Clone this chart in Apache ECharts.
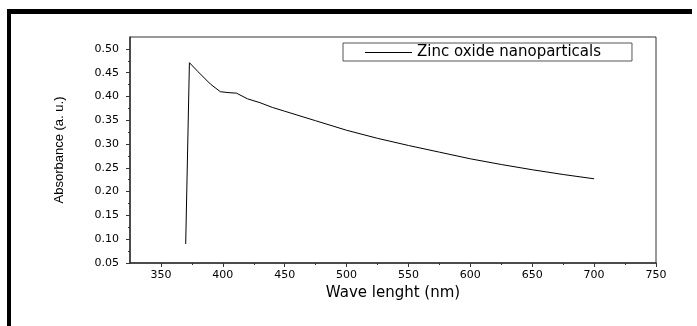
<!DOCTYPE html>
<html>
<head>
<meta charset="utf-8">
<script src="https://cdn.jsdelivr.net/npm/echarts@6/dist/echarts.min.js"></script>
<style>
  html, body { margin: 0; padding: 0; background: #fff; }
  #chart { position: absolute; left: 0; top: 0; width: 697px; height: 326px; }
  #frame {
    position: absolute; left: 7px; top: 9px; width: 681px; height: 317px;
    border-top: 5px solid #000; border-left: 4px solid #000; pointer-events: none;
  }
</style>
</head>
<body>
<div id="chart"></div>
<div id="frame"></div>
<script>
// wavelength (nm) and absorbance
const wavelength = [370, 373, 380, 390, 398, 405, 411, 420, 430, 440, 450, 475, 500, 525, 550, 575, 600, 625, 650, 675, 700];
const absorbance = [0.090, 0.471, 0.452, 0.426, 0.410, 0.408, 0.407, 0.395, 0.387, 0.377, 0.369, 0.349, 0.329, 0.312, 0.297, 0.283, 0.269, 0.257, 0.246, 0.236, 0.227];

const xMajor = [350, 400, 450, 500, 550, 600, 650, 700, 750];
const xMinor = [375, 425, 475, 525, 575, 625, 675, 725];
const yMajor = [0.05, 0.10, 0.15, 0.20, 0.25, 0.30, 0.35, 0.40, 0.45, 0.50];
const yMinor = [0.075, 0.125, 0.175, 0.225, 0.275, 0.325, 0.375, 0.425, 0.475, 0.5];

const seriesName = "Zinc oxide nanoparticals";
const tickFont = { fontFamily: "DejaVu Sans", fontSize: 11, color: "#000" };

const option = {
    animation: false,
    grid: {
        left: 130, right: 41, top: 37, bottom: 63,
        show: true, borderColor: "#333", borderWidth: 1
    },
    legend: {
        left: 343, top: 43,
        padding: [2, 31, 1, 22],
        borderColor: "#555", borderWidth: 1,
        itemWidth: 47, itemHeight: 1, itemGap: 5,
        textStyle: { fontFamily: "DejaVu Sans", fontSize: 15, color: "#000" },
        data: [{ name: seriesName, icon: "rect" }]
    },
    xAxis: [{
        type: "value", min: 325, max: 750, interval: 25,
        name: "Wave lenght (nm)", nameLocation: "middle", nameGap: 23,
        nameTextStyle: { fontFamily: "DejaVu Sans", fontSize: 15, color: "#000" },
        axisLine: { lineStyle: { color: "#333", width: 1.5 } },
        axisTick: { length: 4, customValues: xMajor, lineStyle: { color: "#333" } },
        axisLabel: { ...tickFont, margin: 7, customValues: xMajor },
        splitLine: { show: false }
    }, {
        type: "value", min: 325, max: 750, interval: 25, position: "bottom",
        axisLine: { show: false },
        axisTick: { length: 2, customValues: xMinor, lineStyle: { color: "#333" } },
        axisLabel: { show: false },
        splitLine: { show: false }
    }],
    yAxis: [{
        type: "value", min: 0.05, max: 0.525, interval: 0.05,
        name: "Absorbance (a. u.)", nameLocation: "middle", nameGap: 64,
        nameTextStyle: { fontFamily: "Liberation Sans", fontSize: 13, color: "#000" },
        axisLine: { show: true, lineStyle: { color: "#333", width: 1.5 } },
        axisTick: { show: true, length: 4, customValues: yMajor, lineStyle: { color: "#333" } },
        axisLabel: { ...tickFont, margin: 11, customValues: yMajor, formatter: v => v.toFixed(2) },
        splitLine: { show: false }
    }, {
        type: "value", min: 0.05, max: 0.525, interval: 0.05, position: "left",
        axisLine: { show: false },
        axisTick: { show: true, length: 2, customValues: yMinor, lineStyle: { color: "#333" } },
        axisLabel: { show: false },
        splitLine: { show: false }
    }],
    series: [{
        name: seriesName,
        type: "line",
        symbol: "none",
        color: "#000",
        lineStyle: { color: "#000", width: 1 },
        data: wavelength.map((w, i) => [w, absorbance[i]])
    }]
};

const myChart = echarts.init(document.getElementById("chart"));
myChart.setOption(option);
</script>
</body>
</html>
